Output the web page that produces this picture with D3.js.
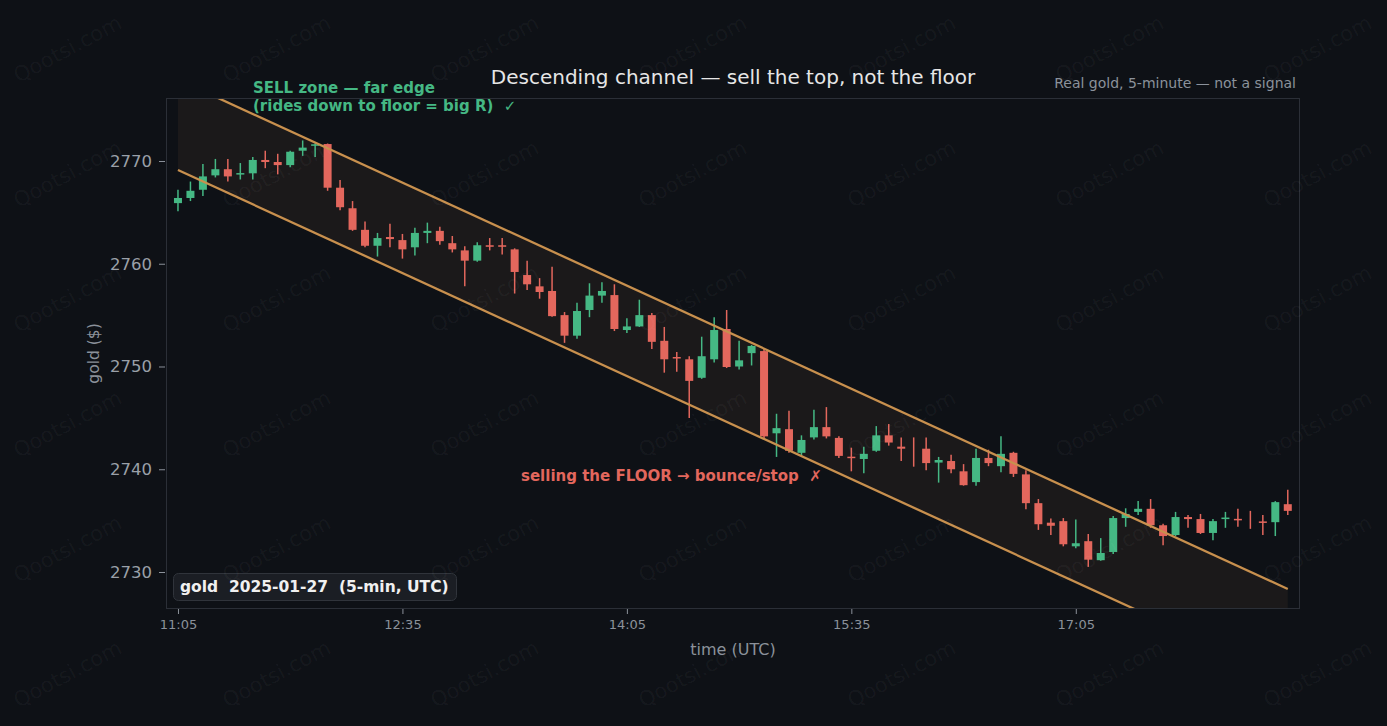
<!DOCTYPE html>
<html><head><meta charset="utf-8">
<script src="https://cdn.jsdelivr.net/npm/d3@7"></script>
<style>
html,body{margin:0;padding:0;background:#0e1116;overflow:hidden;}
svg{display:block;font-family:"DejaVu Sans",sans-serif;}
</style>
</head><body><div id="chart"></div>
<script>
// ---- data ----
const times = ["11:05","11:10","11:15","11:20","11:25","11:30","11:35","11:40","11:45","11:50","11:55",
"12:00","12:05","12:10","12:15","12:20","12:25","12:30","12:35","12:40","12:45","12:50","12:55",
"13:00","13:05","13:10","13:15","13:20","13:25","13:30","13:35","13:40","13:45","13:50","13:55",
"14:00","14:05","14:10","14:15","14:20","14:25","14:30","14:35","14:40","14:45","14:50","14:55",
"15:00","15:05","15:10","15:15","15:20","15:25","15:30","15:35","15:40","15:45","15:50","15:55",
"16:00","16:05","16:10","16:15","16:20","16:25","16:30","16:35","16:40","16:45","16:50","16:55",
"17:00","17:05","17:10","17:15","17:20","17:25","17:30","17:35","17:40","17:45","17:50","17:55",
"18:00","18:05","18:10","18:15","18:20","18:25","18:30"];
const open = [2765.9,2766.4,2767.2,2768.6,2769.2,2768.7,2768.8,2770.1,2769.9,2769.6,2771.0,2771.5,2771.65,2767.4,2765.4,2763.3,2761.75,2762.6,2762.3,2761.6,2763.0,2763.2,2762.0,2761.3,2760.3,2761.8,2761.8,2761.4,2758.9,2757.8,2757.35,2755.0,2753.0,2755.5,2756.9,2756.95,2753.55,2753.9,2755.0,2752.5,2750.9,2750.7,2748.9,2750.7,2753.65,2750.0,2751.3,2751.5,2743.5,2743.9,2741.6,2743.1,2744.1,2743.05,2741.2,2741.0,2741.8,2743.3,2742.2,2741.5,2742.0,2740.65,2740.8,2739.8,2738.75,2741.1,2740.3,2741.6,2739.5,2736.7,2734.8,2734.95,2732.5,2733.0,2731.15,2731.95,2735.25,2735.85,2736.15,2734.55,2733.6,2735.35,2735.15,2733.8,2735.15,2735.15,2735.05,2734.9,2734.85,2736.6];
const high = [2767.2,2768.0,2769.7,2770.2,2770.2,2769.8,2770.4,2771.0,2770.7,2771.0,2772.0,2771.7,2771.7,2768.15,2766.1,2764.1,2763.0,2763.9,2762.9,2763.5,2764.0,2763.6,2762.7,2761.7,2762.1,2762.5,2762.5,2761.5,2760.3,2758.6,2759.7,2755.3,2756.2,2758.1,2758.2,2758.0,2754.7,2756.5,2755.2,2753.85,2751.4,2751.0,2752.9,2754.8,2755.5,2752.5,2752.1,2751.7,2745.4,2745.7,2743.3,2745.8,2746.05,2743.2,2742.1,2742.2,2744.2,2744.4,2743.1,2743.1,2743.1,2741.2,2741.4,2740.5,2742.0,2741.9,2743.2,2741.7,2739.9,2737.1,2735.2,2735.25,2735.1,2733.7,2733.3,2735.45,2736.2,2736.9,2737.1,2734.7,2735.85,2735.55,2735.65,2735.15,2735.85,2736.15,2735.95,2735.55,2736.9,2738.0];
const low = [2765.1,2766.1,2766.6,2768.4,2768.0,2768.2,2768.2,2769.3,2768.7,2769.4,2770.5,2770.4,2767.1,2765.2,2763.2,2761.6,2760.7,2761.6,2760.5,2760.8,2762.0,2761.85,2761.1,2757.8,2760.2,2761.3,2760.9,2757.1,2757.45,2756.6,2754.85,2752.3,2752.7,2754.8,2756.2,2753.45,2753.25,2753.85,2751.7,2749.4,2749.5,2745.0,2748.8,2750.4,2749.85,2749.7,2750.1,2743.0,2741.2,2741.6,2741.3,2742.9,2743.0,2741.1,2739.8,2739.6,2741.7,2742.3,2740.8,2740.25,2739.9,2738.7,2739.6,2738.4,2738.4,2740.3,2739.7,2739.25,2736.1,2734.1,2733.6,2732.5,2732.3,2730.5,2731.1,2731.75,2734.4,2735.55,2734.3,2732.6,2733.5,2734.3,2733.7,2733.1,2734.3,2734.4,2734.2,2733.6,2733.5,2735.55];
const close = [2766.4,2767.1,2768.5,2769.2,2768.5,2768.8,2770.1,2769.9,2769.6,2770.9,2771.3,2771.6,2767.4,2765.5,2763.3,2761.75,2762.5,2762.4,2761.4,2763.0,2763.2,2762.2,2761.4,2760.3,2761.8,2761.65,2761.65,2759.2,2758.0,2757.25,2754.9,2753.0,2755.4,2756.9,2757.35,2753.65,2753.9,2755.0,2752.4,2750.7,2750.8,2748.6,2751.0,2753.55,2749.95,2750.6,2752.0,2743.2,2744.0,2741.8,2742.85,2744.1,2743.2,2741.3,2741.1,2741.5,2743.3,2742.6,2742.0,2741.5,2740.6,2740.9,2740.0,2738.45,2741.1,2740.6,2741.5,2739.55,2736.7,2734.65,2734.5,2732.7,2732.8,2731.2,2731.85,2735.25,2735.65,2736.15,2734.55,2733.5,2735.35,2735.15,2733.8,2734.95,2735.3,2735.05,2735.05,2734.8,2736.8,2735.95];
const channelIdx = [0, 89];
const channelUpper = [2777.92, 2728.35];
const channelLower = [2769.12, 2719.55];
const xTickIdx = [0, 18, 36, 54, 72];
const yTicks = [2730, 2740, 2750, 2760, 2770];

// ---- layout ----
const W = 1387, H = 726;
const m = {left:166, right:1300, top:98, bottom:609};
const UP = "#45b884", DOWN = "#e3675d", CH = "#c8904e";

const svg = d3.select("#chart").append("svg").attr("width", W).attr("height", H);
svg.append("rect").attr("width", W).attr("height", H).attr("fill", "#0e1116");

const x = d3.scaleLinear().domain([-0.96, 89.98]).range([m.left, m.right]);
const y = d3.scaleLinear().domain([2726.4, 2776.13]).range([m.bottom, m.top]);

svg.append("defs").append("clipPath").attr("id","clip")
  .append("rect").attr("x", m.left).attr("y", m.top).attr("width", m.right-m.left).attr("height", m.bottom-m.top);

const plot = svg.append("g").attr("clip-path","url(#clip)");

// channel fill
const chData = channelIdx.map((d,i)=>({i:d, u:channelUpper[i], l:channelLower[i]}));
plot.append("path").datum(chData)
  .attr("d", d3.area().x(d=>x(d.i)).y0(d=>y(d.l)).y1(d=>y(d.u)))
  .attr("fill", CH).attr("fill-opacity", 0.07);

// candles
const candles = times.map((t,i)=>({i, t, o:open[i], h:high[i], l:low[i], c:close[i]}));
const bw = 8;
const g = plot.append("g");
g.selectAll("line.wick").data(candles).join("line")
  .attr("x1", d=>x(d.i)).attr("x2", d=>x(d.i))
  .attr("y1", d=>y(d.h)).attr("y2", d=>y(d.l))
  .attr("stroke", d=>d.c>d.o?UP:DOWN).attr("stroke-width", 1.5);
g.selectAll("rect.body").data(candles.filter(d=>d.o!==d.c)).join("rect")
  .attr("x", d=>x(d.i)-bw/2).attr("width", bw)
  .attr("y", d=>{const a=y(Math.max(d.o,d.c)), b=y(Math.min(d.o,d.c)); return b-a<1.5 ? (a+b)/2-0.75 : a;})
  .attr("height", d=>Math.max(1.5, y(Math.min(d.o,d.c))-y(Math.max(d.o,d.c))))
  .attr("fill", d=>d.c>d.o?UP:DOWN);

// channel lines
const lineU = d3.line().x(d=>x(d.i)).y(d=>y(d.u));
const lineL = d3.line().x(d=>x(d.i)).y(d=>y(d.l));
plot.append("path").datum(chData).attr("d", lineU).attr("fill","none").attr("stroke",CH).attr("stroke-width",2.3);
plot.append("path").datum(chData).attr("d", lineL).attr("fill","none").attr("stroke",CH).attr("stroke-width",2.3);

// frame
svg.append("rect").attr("x", m.left+0.5).attr("y", m.top+0.5).attr("width", m.right-m.left-1).attr("height", m.bottom-m.top-1)
  .attr("fill","none").attr("stroke","#2b2f37").attr("stroke-width",1);

// axes
const yAxis = d3.axisLeft(y).tickValues(yTicks).tickSize(6).tickPadding(7).tickFormat(d3.format("d"));
const ya = svg.append("g").attr("transform",`translate(${m.left-1},0)`).call(yAxis);
ya.select(".domain").remove();
ya.selectAll("line").attr("stroke","#8b919a");
ya.selectAll("text").attr("fill","#9aa0a8").attr("font-size",16.5).attr("font-family","DejaVu Sans");

const xAxis = d3.axisBottom(x).tickValues(xTickIdx).tickSize(5).tickPadding(6).tickFormat(i=>times[i]);
const xa = svg.append("g").attr("transform",`translate(0,${m.bottom})`).call(xAxis);
xa.select(".domain").remove();
xa.selectAll("line").attr("stroke","#8b919a");
xa.selectAll("text").attr("fill","#8b919a").attr("font-size",13).attr("font-family","DejaVu Sans");

// axis labels
svg.append("text").attr("x", (m.left+m.right)/2).attr("y", 655).attr("text-anchor","middle")
  .attr("fill","#8b919a").attr("font-size",16).text("time (UTC)");
svg.append("text").attr("transform",`translate(99,${(m.top+m.bottom)/2}) rotate(-90)`).attr("text-anchor","middle")
  .attr("fill","#8b919a").attr("font-size",15.5).text("gold ($)");

// title
svg.append("text").attr("x", (m.left+m.right)/2).attr("y", 84).attr("text-anchor","middle")
  .attr("fill","#e6e6e6").attr("font-size",20).text("Descending channel — sell the top, not the floor");
svg.append("text").attr("x", 1296).attr("y", 88).attr("text-anchor","end")
  .attr("fill","#8b929b").attr("font-size",14).text("Real gold, 5-minute — not a signal");

// annotations
const ann = svg.append("text").attr("fill", UP).attr("font-size",15).attr("font-weight","bold").style("white-space","pre");
ann.append("tspan").attr("x",253).attr("y",93).text("SELL zone — far edge");
ann.append("tspan").attr("x",253).attr("y",111).text("(rides down to floor = big R)  ✓");
svg.append("text").attr("x",521).attr("y",481).attr("fill",DOWN).attr("font-size",15).attr("font-weight","bold")
  .style("white-space","pre").text("selling the FLOOR → bounce/stop  ✗");

// legend box
svg.append("rect").attr("x",173.5).attr("y",573.5).attr("width",283).attr("height",27).attr("rx",5)
  .attr("fill","#1b1e24").attr("stroke","#30343b");
svg.append("text").attr("x",180).attr("y",592).attr("fill","#f0f0f0").attr("font-size",15.5).attr("font-weight","bold")
  .style("white-space","pre").text("gold  2025-01-27  (5-min, UTC)");

// watermark
const wmCols = [68, 277, 485, 693, 902, 1110, 1318];
const wmRows = [50, 175, 300, 425, 550, 675];
const wm = svg.append("g").attr("pointer-events","none");
wmRows.forEach(r=>wmCols.forEach(c=>{
  wm.append("text").attr("transform",`translate(${c},${r}) rotate(-28)`).attr("text-anchor","middle")
    .attr("dominant-baseline","middle").attr("font-size",21).attr("fill","#ffffff").attr("fill-opacity",0.045)
    .text("Qootsi.com");
}));
</script>
</body></html>
